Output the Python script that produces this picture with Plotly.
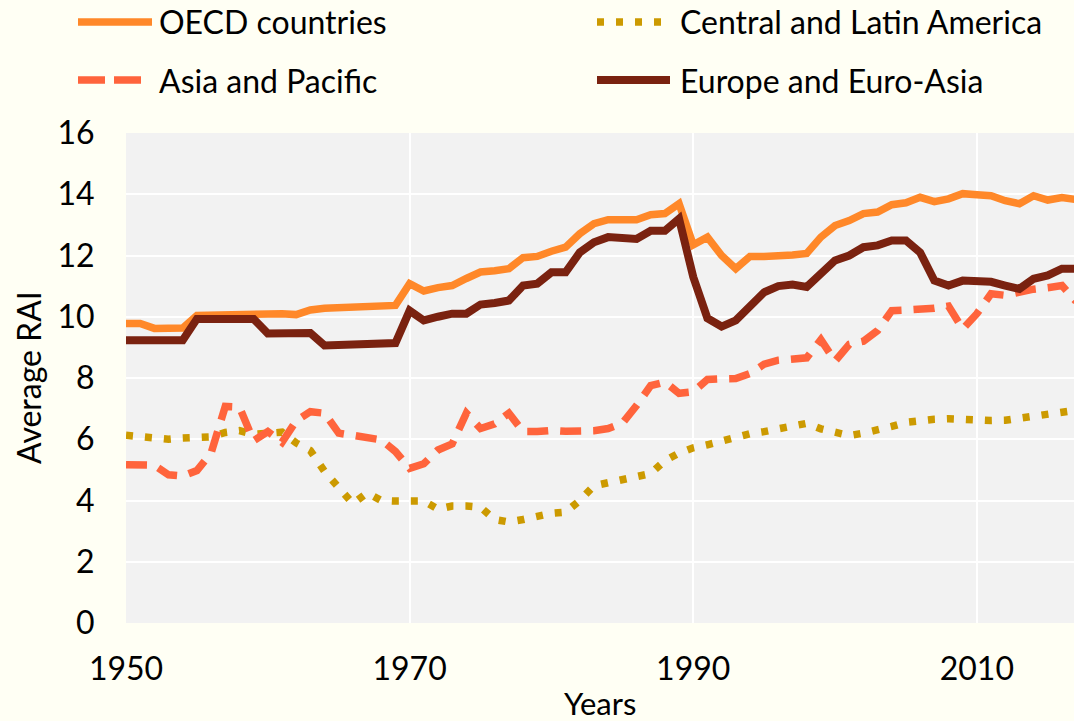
import plotly.graph_objects as go

years = list(range(1950, 2018))

oecd = [9.78, 9.78, 9.62, 9.63, 9.63, 10.04, 10.05, 10.07, 10.08, 10.10,
        10.15, 10.10, 10.07, 10.22, 10.28, 10.30, 10.31, 10.32, 10.35, 10.37,
        11.08, 10.84, 10.95, 11.02, 11.25, 11.46, 11.50, 11.57, 11.93, 11.97,
        12.14, 12.27, 12.71, 13.04, 13.17, 13.17, 13.17, 13.33, 13.37, 13.69,
        12.35, 12.60, 12.00, 11.57, 11.97, 11.97, 11.98, 12.02, 12.07, 12.60,
        12.98, 13.14, 13.37, 13.42, 13.66, 13.72, 13.90, 13.76, 13.85, 14.02,
        13.98, 13.95, 13.79, 13.69, 13.95, 13.81, 13.89, 13.83]

cla = [6.13, 6.10, 6.05, 6.00, 6.04, 6.04, 6.08, 6.22, 6.28, 6.16,
       6.20, 6.23, 5.88, 5.63, 4.95, 4.40, 3.90, 4.25, 4.00, 3.98,
       3.98, 3.98, 3.72, 3.82, 3.82, 3.78, 3.38, 3.30, 3.38, 3.50,
       3.58, 3.62, 4.00, 4.48, 4.56, 4.68, 4.78, 4.88, 5.30, 5.55,
       5.72, 5.82, 5.95, 6.08, 6.18, 6.25, 6.32, 6.42, 6.52, 6.34,
       6.20, 6.12, 6.20, 6.34, 6.42, 6.55, 6.62, 6.65, 6.67, 6.63,
       6.61, 6.61, 6.62, 6.68, 6.76, 6.84, 6.90, 6.95]

asia = [5.17, 5.17, 5.15, 4.84, 4.80, 4.98, 5.55, 7.07, 7.05, 5.95,
        6.25, 5.90, 6.60, 6.90, 6.85, 6.20, 6.13, 6.10, 5.98, 5.60,
        5.05, 5.20, 5.65, 5.85, 6.85, 6.35, 6.50, 6.85, 6.25, 6.25,
        6.29, 6.26, 6.26, 6.28, 6.35, 6.52, 7.10, 7.75, 7.87, 7.50,
        7.55, 7.95, 7.97, 7.98, 8.15, 8.45, 8.58, 8.62, 8.66, 9.25,
        8.55, 9.10, 9.20, 9.55, 10.20, 10.22, 10.23, 10.28, 10.35, 9.60,
        10.10, 10.75, 10.70, 10.82, 10.90, 10.95, 11.02, 10.50]

europe = [9.23, 9.23, 9.23, 9.23, 9.23, 9.93, 9.93, 9.93, 9.93, 9.93,
          9.45, 9.45, 9.45, 9.47, 9.06, 9.07, 9.08, 9.10, 9.12, 9.14,
          10.20, 9.88, 10.00, 10.10, 10.10, 10.40, 10.45, 10.53, 11.02, 11.08,
          11.45, 11.45, 12.10, 12.43, 12.60, 12.60, 12.54, 12.81, 12.81, 13.20,
          11.30, 9.95, 9.68, 9.88, 10.30, 10.80, 11.00, 11.05, 10.97, 11.40,
          11.84, 12.00, 12.27, 12.33, 12.49, 12.49, 12.10, 11.18, 11.02, 11.18,
          11.17, 11.14, 11.02, 10.91, 11.24, 11.35, 11.57, 11.57]

series_names = ["OECD countries", "Central and Latin America",
                "Asia and Pacific", "Europe and Euro-Asia"]
series_values = [oecd, cla, asia, europe]
colors = ["#FF8829", "#CC9A00", "#FF643C", "#7A2210"]
widths = [7.5, 7.5, 7.5, 8]
dashes = ["solid", "7px,12px", "21px,12px", "solid"]

FONT = "Lato"
fig = go.Figure()
for name, vals, c, w, d in zip(series_names, series_values, colors, widths, dashes):
    fig.add_trace(go.Scatter(x=years, y=vals, mode="lines", name=name,
                             line=dict(color=c, width=w, dash=d),
                             showlegend=False))

# manual legend (two columns, two rows)
legend_pos = [  # (line x0, line x1, text x, row y) in pixels
    (78, 152, 157, 22),
    (597, 662, 678, 22),
    (78, 141, 157, 80),
    (597, 670, 678, 80),
]
L, T, W, H = 126, 133, 948, 490
def px(x):
    return (x - L) / W
def py(y):
    return 1 + (T - y) / H

legend_dash = ["solid", "7px,12px", "27px,9px", "solid"]
for (x0, x1, tx, ry), name, c, w, d in zip(legend_pos, series_names, colors, widths, legend_dash):
    fig.add_shape(type="line", xref="paper", yref="paper",
                  x0=px(x0), x1=px(x1), y0=py(ry), y1=py(ry),
                  line=dict(color=c, width=w, dash=d))
    fig.add_annotation(xref="paper", yref="paper", x=px(tx), y=py(ry),
                       text=name, showarrow=False, xanchor="left", yanchor="middle",
                       font=dict(family=FONT, size=32, color="#000000"))

fig.add_annotation(xref="paper", yref="paper", x=0.5, y=-(703 - 623) / H,
                   text="Years", showarrow=False, xanchor="center", yanchor="middle",
                   font=dict(family=FONT, size=31, color="#000000"))
fig.add_annotation(xref="paper", yref="paper", x=px(28), y=0.5,
                   text="Average RAI", showarrow=False, textangle=-90,
                   xanchor="center", yanchor="middle",
                   font=dict(family=FONT, size=32, color="#000000"))

fig.update_layout(
    width=1074, height=721,
    margin=dict(l=L, r=0, t=T, b=721 - T - H),
    paper_bgcolor="#FFFFF4",
    plot_bgcolor="#F2F2F2",
    font=dict(family=FONT, size=32, color="#000000"),
    showlegend=False,
)
fig.update_xaxes(range=[1950, 2016.85], tickvals=[1950, 1970, 1990, 2010],
                 showgrid=True, gridcolor="#FFFFFF", gridwidth=2,
                 zeroline=False, showline=False,
                 ticks="outside", ticklen=18, tickcolor="rgba(0,0,0,0)",
                 tickfont=dict(family=FONT, size=32, color="#000000"))
fig.update_yaxes(range=[0, 16], dtick=2,
                 showgrid=True, gridcolor="#FFFFFF", gridwidth=2,
                 zeroline=False, showline=False,
                 ticks="outside", ticklen=24, tickcolor="rgba(0,0,0,0)",
                 tickfont=dict(family=FONT, size=32, color="#000000"))

fig.write_html(
    "out.html",
    config={"displayModeBar": False},
    post_script="document.body.style.margin='0';document.body.style.overflow='hidden';",
)
